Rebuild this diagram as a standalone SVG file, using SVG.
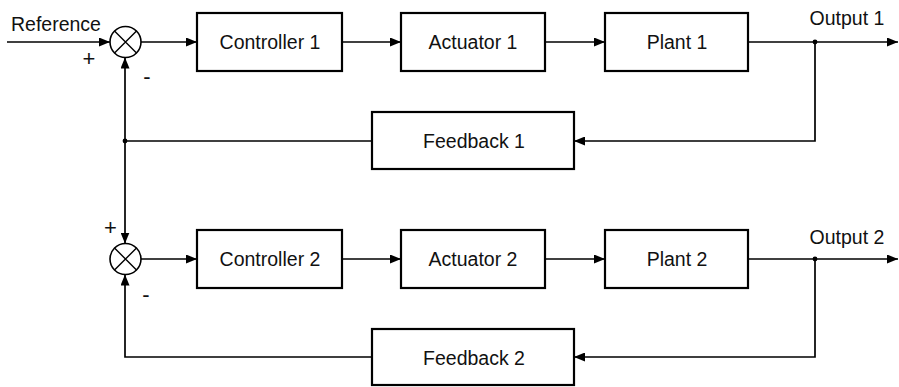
<svg xmlns="http://www.w3.org/2000/svg" width="899" height="387" viewBox="0 0 899 387">
<defs>
<marker id="ah" markerWidth="11" markerHeight="9" refX="11" refY="4.5" orient="auto" markerUnits="userSpaceOnUse">
<path d="M0,0 L11,4.5 L0,9 Z" fill="#000"/>
</marker>
<style>
.box{fill:#fff;stroke:#000;stroke-width:2.2}
.sum{fill:#fff;stroke:#000;stroke-width:1.6}
.x{stroke:#000;stroke-width:1.4}
.ln{fill:none;stroke:#000;stroke-width:1.7}
.arr{marker-end:url(#ah)}
text{font-family:"Liberation Sans",Arial,sans-serif;font-size:19.5px;fill:#111}
.c{text-anchor:middle}
.sg{font-size:22px}
</style>
</defs>
<g id="connectors">
<path class="ln arr" d="M7,42 H110"/>
<path class="ln arr" d="M141,42 H197"/>
<path class="ln arr" d="M342,42 H401"/>
<path class="ln arr" d="M545,42 H605"/>
<path class="ln arr" d="M748,42 H898"/>
<path class="ln arr" d="M815,42 V141 H574"/>
<path class="ln" d="M372,141 H125"/>
<path class="ln arr" d="M125,141 V57.5"/>
<path class="ln arr" d="M125,141 V243.5"/>
<path class="ln arr" d="M141,259 H197"/>
<path class="ln arr" d="M342,259 H401"/>
<path class="ln arr" d="M545,259 H605"/>
<path class="ln arr" d="M748,259 H898"/>
<path class="ln arr" d="M815,259 V357 H574"/>
<path class="ln arr" d="M372,357 H125 V274.5"/>
<circle cx="815" cy="42" r="2.4"/>
<circle cx="125" cy="141" r="2.4"/>
<circle cx="815" cy="259" r="2.4"/>
</g>
<g id="sum1">
<circle class="sum" cx="125.5" cy="42" r="15.5"/>
<path class="x" d="M114.5,31 L136.5,53 M136.5,31 L114.5,53"/>
</g>
<g id="sum2">
<circle class="sum" cx="125.5" cy="259" r="15.5"/>
<path class="x" d="M114.5,248 L136.5,270 M136.5,248 L114.5,270"/>
</g>
<g id="controller1"><rect class="box" x="197" y="13" width="145" height="58"/><text class="c" x="270" y="49">Controller 1</text></g>
<g id="actuator1"><rect class="box" x="401" y="13" width="144" height="58"/><text class="c" x="473" y="49">Actuator 1</text></g>
<g id="plant1"><rect class="box" x="605" y="13" width="143" height="58"/><text class="c" x="677" y="49">Plant 1</text></g>
<g id="feedback1"><rect class="box" x="372" y="112" width="202" height="57"/><text class="c" x="474" y="148">Feedback 1</text></g>
<g id="controller2"><rect class="box" x="197" y="230" width="145" height="58"/><text class="c" x="270" y="266">Controller 2</text></g>
<g id="actuator2"><rect class="box" x="401" y="230" width="144" height="58"/><text class="c" x="473" y="266">Actuator 2</text></g>
<g id="plant2"><rect class="box" x="605" y="230" width="143" height="58"/><text class="c" x="677" y="266">Plant 2</text></g>
<g id="feedback2"><rect class="box" x="372" y="329" width="202" height="56"/><text class="c" x="474" y="365">Feedback 2</text></g>
<g id="labels">
<text x="11" y="31">Reference</text>
<text class="c sg" x="89" y="66">+</text>
<text class="c sg" x="147" y="84">-</text>
<text class="c sg" x="110.5" y="235">+</text>
<text class="c sg" x="146" y="302">-</text>
<text class="c" x="847" y="25">Output 1</text>
<text class="c" x="847" y="244">Output 2</text>
</g>
</svg>
